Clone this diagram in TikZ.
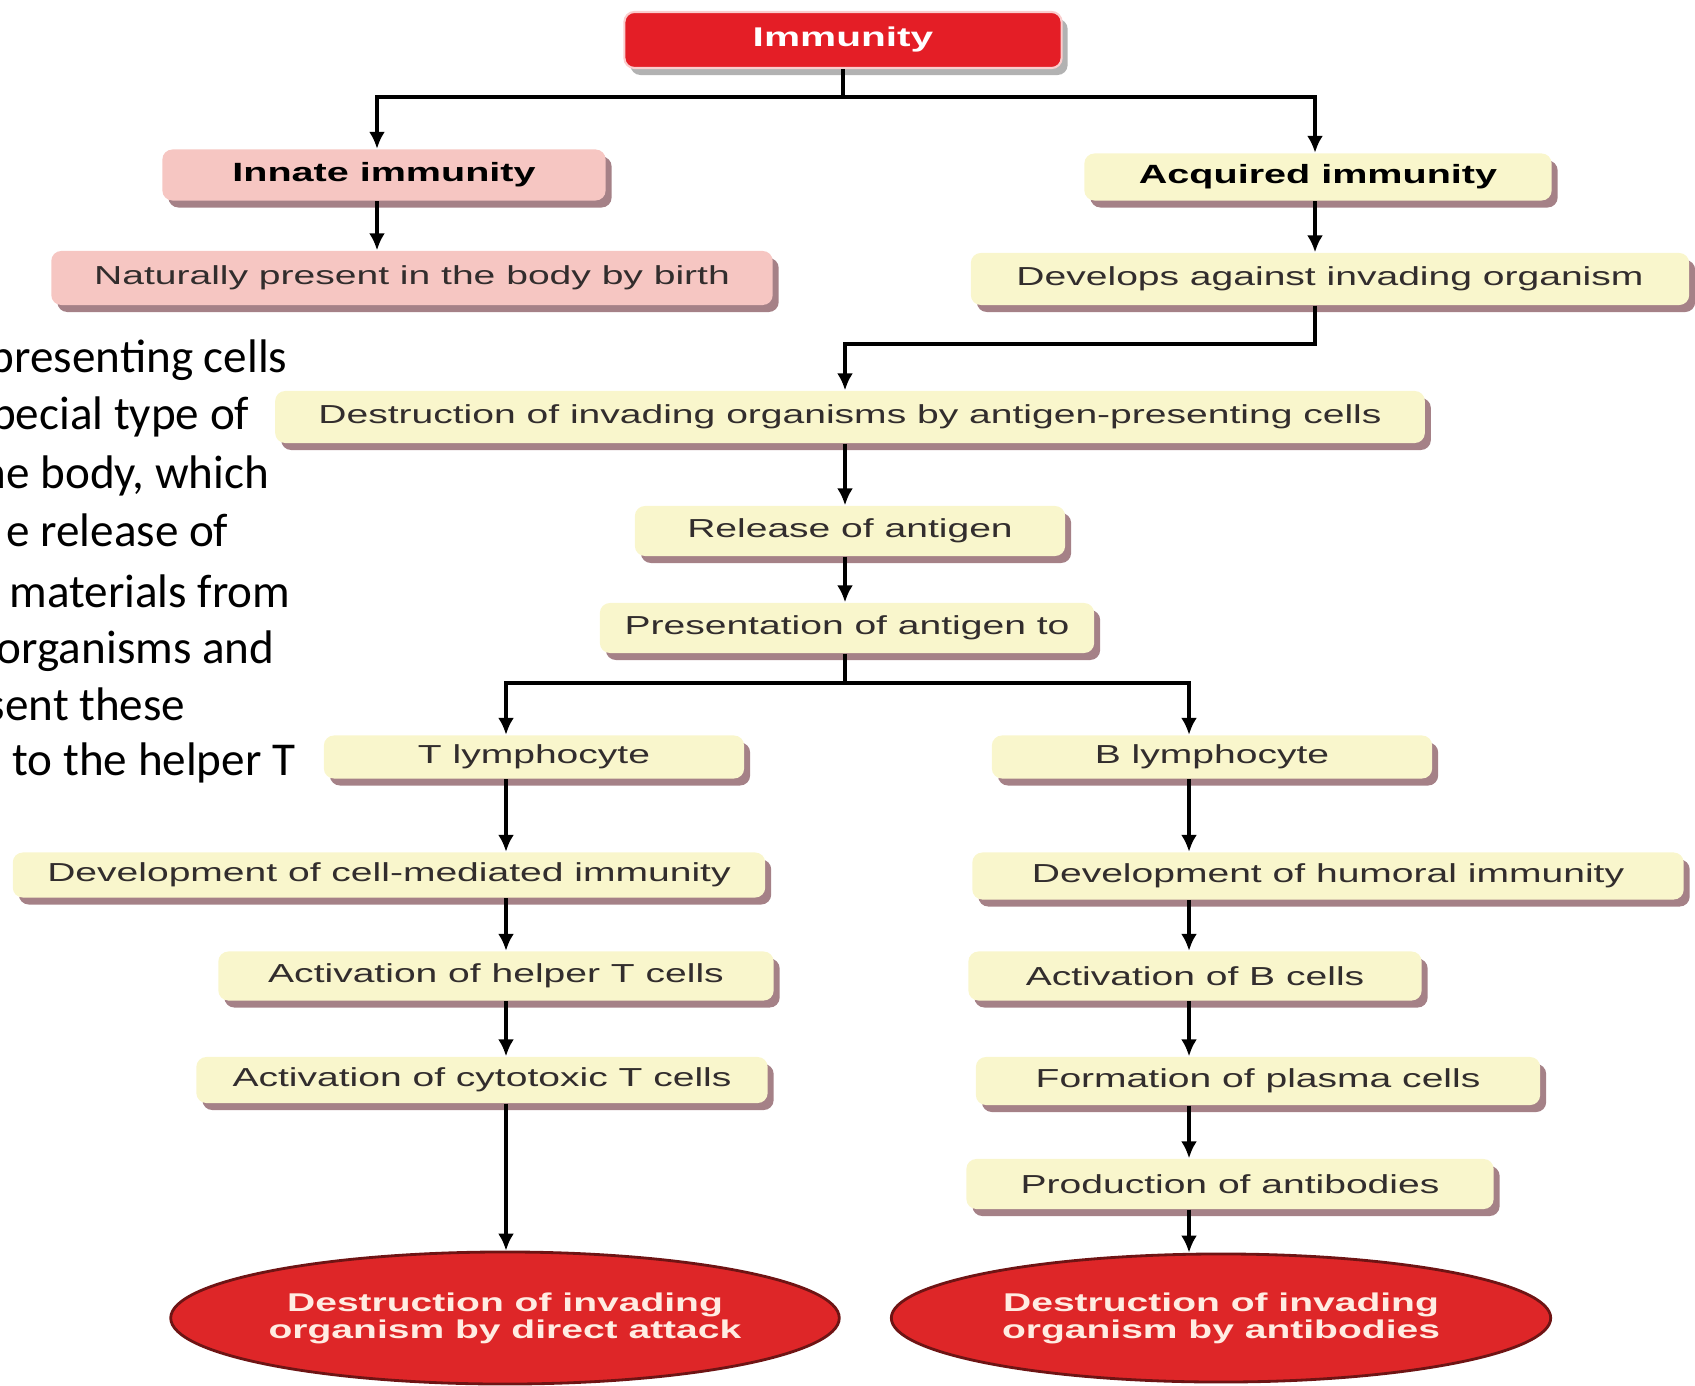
\documentclass[tikz,border=0pt]{standalone}
\usepackage{fontspec}
\usetikzlibrary{arrows.meta,shapes.geometric,shadows,positioning}

\newfontfamily\chartfam[FakeStretch=1.5]{Liberation Sans}
\newfontfamily\ovalfam[FakeStretch=1.52]{Liberation Sans}
\newfontfamily\slidefam{Carlito}

\newcommand{\boxfont}{\chartfam\fontsize{7.4}{9}\selectfont}
\newcommand{\headfont}{\chartfam\bfseries\fontsize{7.5}{9}\selectfont}
\newcommand{\topfont}{\chartfam\bfseries\fontsize{7.7}{9}\selectfont}
\newcommand{\ovaltextfont}{\ovalfam\bfseries\fontsize{7.3}{7.7}\selectfont}
\newcommand{\slidetextfont}{\slidefam\fontsize{13.4}{16}\selectfont}

\definecolor{immred}{RGB}{228,30,38}
\definecolor{immrim}{RGB}{250,205,205}
\definecolor{ovalred}{RGB}{222,38,40}
\definecolor{ovalrim}{RGB}{110,20,20}
\definecolor{ovaltext}{RGB}{255,236,226}
\definecolor{innpink}{RGB}{246,198,194}
\definecolor{acqyellow}{RGB}{249,246,204}
\definecolor{shade}{RGB}{105,45,55}
\definecolor{inktext}{RGB}{50,45,45}

\begin{document}
\begin{tikzpicture}[x=0.01cm,y=-0.01cm]
    \tikzset{
        box/.style={
            rounded corners=0.1cm,inner sep=0pt,minimum height=0.5cm,
            font=\boxfont,text=inktext,
            drop shadow={shadow xshift=0.06cm,shadow yshift=-0.07cm,fill=shade,opacity=0.6}
        },
        yellowbox/.style={box,fill=acqyellow},
        pinkbox/.style={box,fill=innpink},
        heading/.style={font=\headfont,text=black},
        topbox/.style={
            rounded corners=0.1cm,inner sep=0pt,fill=immred,draw=immrim,line width=0.6pt,
            text=white,font=\topfont,
            drop shadow={shadow xshift=0.06cm,shadow yshift=-0.07cm,fill=black!60,opacity=0.5}
        },
        oval/.style={
            ellipse,draw=ovalrim,line width=0.8pt,fill=ovalred,text=ovaltext,
            font=\ovaltextfont,align=center,inner sep=0pt
        },
        slide/.style={anchor=base east,font=\slidetextfont,text=black,inner sep=0pt},
        flow/.style={-{Latex[length=0.17cm,width=0.16cm]},line width=0.9pt},
        link/.style={line width=0.9pt}
    }

    \useasboundingbox (0,0) rectangle (1695,1386);

    % text of the slide, cut at the left edge
    \begin{scope}
        \clip (0,0) rectangle (1695,1386);
        \node[slide] (s1) at (288,373) {presenting cells};
        \node[slide] (s2) at (250,430) {pecial type of};
        \node[slide] (s3) at (270,489) {he body, which};
        \node[slide] (s4) at (229,547) {e release of};
        \node[slide] (s5) at (291,607) {materials from};
        \node[slide] (s6) at (275,663) {organisms and};
        \node[slide] (s7) at (186,720) {sent these};
        \node[slide] (s8) at (296,775) {to the helper T};
    \end{scope}

    % boxes
    \node[topbox,minimum width=4.37cm,minimum height=0.56cm] (immunity) at (843,40) {Immunity};

    \node[pinkbox,heading,minimum width=4.43cm,minimum height=0.51cm] (innate) at (384,175) {Innate immunity};
    \node[yellowbox,heading,minimum width=4.67cm,minimum height=0.47cm] (acquired) at (1318,177) {Acquired immunity};

    \node[pinkbox,minimum width=7.21cm,minimum height=0.54cm] (natural) at (412,278)
        {Naturally present in the body by birth};
    \node[yellowbox,minimum width=7.18cm,minimum height=0.52cm] (develops) at (1330,279)
        {Develops against invading organism};

    \node[yellowbox,minimum width=11.49cm,minimum height=0.52cm] (apc) at (850,417)
        {Destruction of invading organisms by antigen-presenting cells};
    \node[yellowbox,minimum width=4.30cm] (release) at (850,531) {Release of antigen};
    \node[yellowbox,minimum width=4.94cm] (present) at (847,628) {Presentation of antigen to};

    \node[yellowbox,minimum width=4.20cm,minimum height=0.43cm] (tlym) at (534,757) {T lymphocyte};
    \node[yellowbox,minimum width=4.40cm,minimum height=0.43cm] (blym) at (1212,757) {B lymphocyte};

    \node[yellowbox,minimum width=7.52cm,minimum height=0.45cm] (cellmed) at (389,875)
        {Development of cell-mediated immunity};
    \node[yellowbox,minimum width=5.55cm,minimum height=0.49cm] (helper) at (496,976)
        {Activation of helper T cells};
    \node[yellowbox,minimum width=5.71cm,minimum height=0.46cm] (cytotoxic) at (482,1080)
        {Activation of cytotoxic T cells};
    \node[oval,minimum width=6.60cm,minimum height=1.32cm] (attack) at (505,1318)
        {Destruction of invading\\organism by direct attack};

    \node[yellowbox,minimum width=7.11cm,minimum height=0.47cm] (humoral) at (1328,876)
        {Development of humoral immunity};
    \node[yellowbox,minimum width=4.53cm,minimum height=0.49cm] (bcells) at (1195,976)
        {Activation of B cells};
    \node[yellowbox,minimum width=5.64cm,minimum height=0.48cm] (plasma) at (1258,1081)
        {Formation of plasma cells};
    \node[yellowbox,minimum width=5.27cm,minimum height=0.50cm] (antibody) at (1230,1184)
        {Production of antibodies};
    \node[oval,minimum width=6.59cm,minimum height=1.28cm] (antibodies) at (1221,1318)
        {Destruction of invading\\organism by antibodies};

    % connectors
    \coordinate (topbar) at (0,97);
    \coordinate (elbow) at (0,344);
    \coordinate (lowbar) at (0,683);
    \coordinate (icol) at (377,0);
    \coordinate (acol) at (1315,0);
    \coordinate (mcol) at (845,0);
    \coordinate (tcol) at (506,0);
    \coordinate (bcol) at (1189,0);

    \draw[link] (immunity.south) -- (immunity.south |- topbar);
    \draw[flow] (immunity.south |- topbar) -| (innate.north -| icol);
    \draw[flow] (immunity.south |- topbar) -| (acquired.north -| acol);
    \draw[flow] (innate.south -| icol) -- (natural.north -| icol);
    \draw[flow] (acquired.south -| acol) -- (develops.north -| acol);
    \draw[flow] (develops.south -| acol) -- (elbow -| acol) -| (apc.north -| mcol);
    \draw[flow] (apc.south -| mcol) -- (release.north -| mcol);
    \draw[flow] (release.south -| mcol) -- (present.north -| mcol);
    \draw[link] (present.south -| mcol) -- (lowbar -| mcol);
    \draw[flow] (lowbar -| mcol) -| (tlym.north -| tcol);
    \draw[flow] (lowbar -| mcol) -| (blym.north -| bcol);

    \foreach \a/\b in {tlym/cellmed,cellmed/helper,helper/cytotoxic,cytotoxic/attack}
        \draw[flow] (\a.south -| tcol) -- (\b.north -| tcol);
    \foreach \a/\b in {blym/humoral,humoral/bcells,bcells/plasma,plasma/antibody,antibody/antibodies}
        \draw[flow] (\a.south -| bcol) -- (\b.north -| bcol);
\end{tikzpicture}
\end{document}
